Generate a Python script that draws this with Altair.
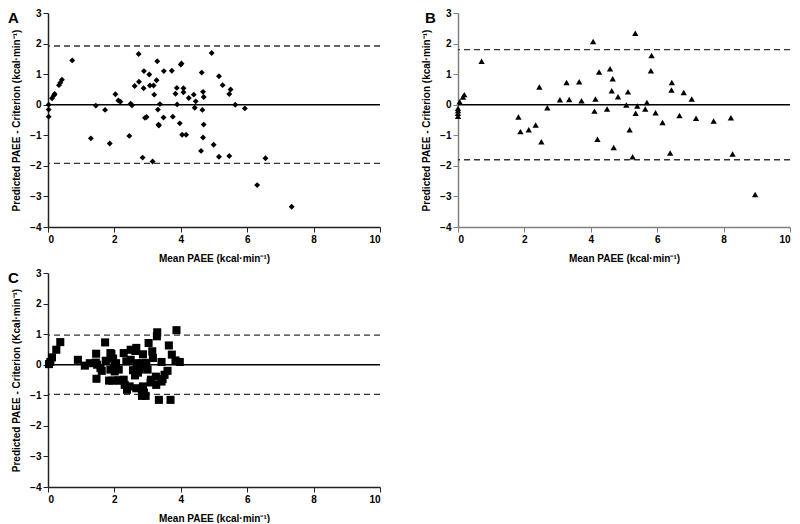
import altair as alt
import pandas as pd

# Panel A (diamonds)
xA = [0.02, 0.02, 0.02, 0.12, 0.18, 0.20, 0.33, 0.37, 0.42, 0.73, 1.29, 1.44, 1.72, 1.86, 2.03,
      2.12, 2.18, 2.45, 2.49, 2.53, 2.61, 2.73, 2.74, 2.85, 2.88, 2.89, 2.92, 2.97, 3.05, 3.07,
      3.15, 3.18, 3.20, 3.27, 3.29, 3.31, 3.33, 3.34, 3.37, 3.48, 3.49, 3.73, 3.76, 3.84, 3.88,
      3.89, 3.97, 4.00, 4.02, 4.08, 4.08, 4.04, 4.16, 4.24, 4.39, 4.42, 4.45, 4.61, 4.63, 4.65,
      4.67, 4.69, 4.69, 4.67, 4.93, 4.99, 5.15, 5.15, 5.26, 5.46, 5.50, 5.46, 5.64, 5.93, 6.55,
      6.30, 7.34]
yA = [0.00, -0.16, -0.39, 0.21, 0.31, 0.35, 0.64, 0.72, 0.82, 1.45, -1.10, -0.03, -0.17, -1.27, 0.34,
      0.14, 0.10, -1.02, 0.03, -0.02, 0.61, 1.66, 0.75, -1.73, 0.54, 1.10, -0.43, -0.40, 0.99, 0.63,
      -1.86, 0.63, 0.33, 0.80, 1.42, -0.16, -0.65, -0.68, 0.02, -0.42, 1.10, 1.11, -0.39, 0.36, 0.55,
      0.01, -0.61, 1.31, 1.35, 0.54, 0.41, -0.98, -0.98, 0.22, 0.33, -0.10, 0.11, -1.51, 1.05, -0.17,
      0.42, 0.25, -0.65, -1.07, 1.69, -1.31, 0.93, -1.70, 0.64, 0.35, 0.50, -1.68, 0.00, -0.12, -1.75,
      -2.63, -3.34]
loaA = 1.92

# Panel B (triangles)
xB = [0.00, 0.00, 0.00, 0.00, 0.05, 0.15, 0.19, 0.71, 1.82, 1.88, 2.13, 2.34, 2.45, 2.51, 2.69,
      3.07, 3.27, 3.35, 3.65, 3.72, 4.07, 4.11, 4.14, 4.20, 4.25, 4.49, 4.58, 4.63, 4.66, 4.69,
      4.82, 5.07, 5.12, 5.17, 5.26, 5.34, 5.35, 5.40, 5.64, 5.69, 5.81, 5.83, 5.95, 6.16, 6.39,
      6.43, 6.44, 6.67, 6.80, 7.04, 7.17, 7.70, 8.22, 8.27, 8.95]
yB = [-0.12, -0.19, -0.28, -0.38, 0.10, 0.25, 0.33, 1.42, -0.40, -0.88, -0.82, -0.66, 0.58, -1.21, -0.10,
      0.16, 0.73, 0.17, 0.75, 0.13, 2.07, -0.21, 0.19, -1.13, 1.07, -0.14, 1.18, 0.46, 0.85, -1.40,
      0.26, -0.01, 0.42, -0.82, -1.70, 2.34, -0.28, -0.04, -0.14, 0.07, 1.11, 1.61, -0.26, -0.58, -1.58,
      0.48, 0.73, -0.35, 0.40, 0.19, -0.44, -0.53, -0.43, -1.61, -2.94]
loaB = 1.80

# Panel C (squares)
xC = [0.03, 0.07, 0.12, 0.25, 0.37, 0.90, 1.11, 1.26, 1.44, 1.45, 1.48, 1.58, 1.62, 1.46, 1.72,
      1.74, 1.88, 1.88, 1.84, 1.91, 1.96, 2.00, 2.05, 2.01, 2.13, 1.94, 2.10, 2.16, 2.28, 2.36,
      2.28, 2.31, 2.38, 2.46, 2.49, 2.49, 2.56, 2.62, 2.63, 2.66, 2.66, 2.67, 2.71, 2.76, 2.81,
      2.86, 2.86, 2.89, 2.89, 2.83, 2.94, 2.96, 3.00, 3.03, 3.09, 3.10, 3.14, 3.16, 3.25, 3.26,
      3.28, 3.29, 3.34, 3.42, 3.42, 3.45, 3.51, 3.60, 3.64, 3.69, 3.73, 3.84, 3.87, 3.97]
yC = [0.02, 0.09, 0.24, 0.49, 0.74, 0.16, -0.03, 0.05, 0.07, 0.36, 0.00, -0.11, -0.20, -0.46, 0.73,
      0.13, 0.38, -0.16, -0.52, 0.35, 0.20, -0.05, 0.05, -0.22, -0.16, -0.52, -0.51, -0.52, 0.38, 0.11,
      -0.49, -0.66, -0.82, -0.71, 0.49, 0.16, -0.18, -0.35, 0.45, 0.55, -0.77, 0.05, -0.26, -0.16, 0.05,
      0.34, -0.71, -0.08, -0.91, -1.02, -1.02, 0.06, -0.16, 0.71, -0.58, -0.49, 0.44, 0.22, -0.39, -0.66,
      0.93, 1.06, -1.15, 0.09, -0.55, -0.47, -0.33, -0.20, 0.63, -1.15, 0.33, 0.14, 1.13, 0.09]
loaC = 0.97

xTicks = [0, 2, 4, 6, 8, 10]
yTicks = [-4, -3, -2, -1, 0, 1, 2, 3]
FONT = "Liberation Sans"


def panel(x, y, loa, shape, size, letter, letter_dx, ytitle, axcolor):
    pts = pd.DataFrame({"x": x, "y": y})
    xs = alt.Scale(domain=[0, 10], nice=False, zero=False)
    ys = alt.Scale(domain=[-4, 3], nice=False, zero=False)
    xaxis = alt.Axis(values=xTicks, title="Mean PAEE  (kcal·min⁻¹)", grid=False,
                     domainColor=axcolor, tickColor=axcolor, tickSize=5,
                     labelFont=FONT, labelFontWeight="bold", labelFontSize=10, labelColor="black",
                     titleFont=FONT, titleFontWeight="bold", titleFontSize=10, titleColor="black",
                     titlePadding=9, domainWidth=1.5)
    yaxis = alt.Axis(values=yTicks, title=ytitle, grid=False,
                     domainColor=axcolor, tickColor=axcolor, tickSize=5,
                     labelFont=FONT, labelFontWeight="bold", labelFontSize=10, labelColor="black",
                     titleFont=FONT, titleFontWeight="bold", titleFontSize=10, titleColor="black",
                     titlePadding=8, domainWidth=1.5)
    points = alt.Chart(pts).mark_point(shape=shape, filled=True, size=size, color="black", opacity=1).encode(
        x=alt.X("x:Q", scale=xs, axis=xaxis),
        y=alt.Y("y:Q", scale=ys, axis=yaxis),
    )
    zero = alt.Chart(pd.DataFrame({"y": [0.0]})).mark_rule(color="black", strokeWidth=1.5).encode(
        y=alt.Y("y:Q", scale=ys, axis=yaxis)
    )
    dashed = alt.Chart(pd.DataFrame({"y": [loa, -loa]})).mark_rule(
        color="#333333", strokeWidth=1.3, strokeDash=[6, 4]).encode(
        y=alt.Y("y:Q", scale=ys, axis=yaxis)
    )
    lab = alt.Chart(pd.DataFrame({"t": [letter]})).mark_text(
        align="left", baseline="top", fontSize=15, fontWeight="bold", font=FONT, color="black"
    ).encode(text="t:N", x=alt.value(letter_dx), y=alt.value(-2))
    return alt.layer(dashed, zero, points, lab).properties(width=332, height=214)


A = panel(xA, yA, loaA, "diamond", 35, "A", -40, "Predicted PAEE  - Criterion (kcal·min⁻¹)", "#222222")
B = panel(xB, yB, loaB, "triangle-up", 40, "B", -33, "Predicted PAEE  - Criterion (kcal·min⁻¹)", "#808080")
C = panel(xC, yC, loaC, "square", 65, "C", -40, "Predicted PAEE  - Criterion (Kcal·min⁻¹)", "#222222")

chart = alt.vconcat(
    alt.hconcat(A, B, spacing=40),
    C,
    spacing=5,
).configure_view(stroke=None).properties(background="white", padding=0)

chart.save("out.html", embed_options={"renderer": "svg", "actions": False})
